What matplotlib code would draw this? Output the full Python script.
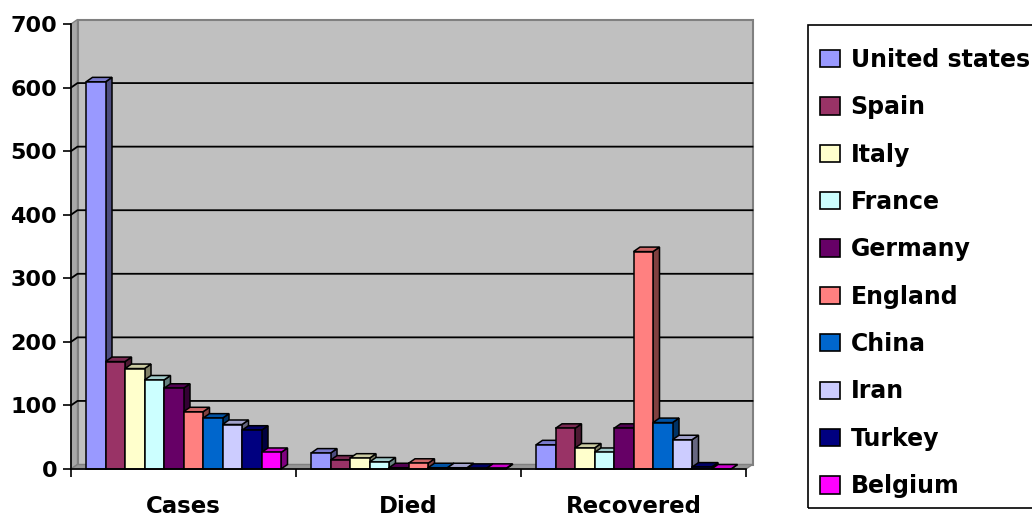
import matplotlib
matplotlib.use("Agg")
import matplotlib.pyplot as plt
from matplotlib.patches import Polygon, Patch, Rectangle
from matplotlib.colors import to_rgb

# Cases / deaths / recoveries per country (thousands)
categories = ["Cases", "Died", "Recovered"]
countries = ["United states", "Spain", "Italy", "France", "Germany",
             "England", "China", "Iran", "Turkey", "Belgium"]
colors = ["#9999FF", "#993366", "#FFFFCC", "#CCFFFF", "#660066",
          "#FF8080", "#0066CC", "#CCCCFF", "#000080", "#FF00FF"]

cases = [609, 169, 158, 140, 127, 90, 80, 70, 61, 26]
died = [25, 14, 17, 11, 2, 9, 2, 2, 1, 1]
recovered = [38, 64, 33, 26, 64, 342, 73, 46, 3, 0]
series = [cases, died, recovered]

yticks = list(range(0, 701, 100))

W, H = 1032, 517
fig = plt.figure(figsize=(W / 100, H / 100), dpi=100)
ax = fig.add_axes([71 / W, 48 / H, 675 / W, 445 / H])
ax.set_xlim(0, 3)
ax.set_ylim(0, 700)
ax.patch.set_visible(False)

# pixel -> data conversion for the fake 3D depth
px_x = 675 / 3
px_y = 445 / 700
dx = 6.5 / px_x
dy = 4.5 / px_y


def shade(c, f):
    r, g, b = to_rgb(c)
    return (r * f, g * f, b * f)


# back wall, side wall and floor
ax.add_patch(Polygon([(dx, dy), (3 + dx, dy), (3 + dx, 700 + dy), (dx, 700 + dy)],
                     facecolor="#C0C0C0", edgecolor="#808080", lw=1.5,
                     clip_on=False, zorder=0))
ax.add_patch(Polygon([(0, 0), (dx, dy), (dx, 700 + dy), (0, 700)],
                     facecolor="#A8A8A8", edgecolor="#808080", lw=1.0,
                     clip_on=False, zorder=0.5))
ax.add_patch(Polygon([(0, 0), (3, 0), (3 + dx, dy), (dx, dy)],
                     facecolor="#969696", edgecolor="#808080", lw=1.0,
                     clip_on=False, zorder=0.5))

for v in yticks[1:-1]:
    ax.plot([0, dx, 3 + dx], [v, v + dy, v + dy], color="black", lw=1.3,
            clip_on=False, zorder=1)

bar_w = 19.5 / px_x
start = 15 / px_x
for j, vals in enumerate(series):
    for i, h in enumerate(vals):
        x0 = j + start + i * bar_w
        z = 2 + j * 40 + i * 3
        c = colors[i]
        ax.add_patch(Polygon([(x0 + bar_w, 0), (x0 + bar_w + dx, dy),
                              (x0 + bar_w + dx, h + dy), (x0 + bar_w, h)],
                             facecolor=shade(c, 0.5), edgecolor="black", lw=1.1,
                             clip_on=False, zorder=z))
        ax.add_patch(Polygon([(x0, h), (x0 + bar_w, h),
                              (x0 + bar_w + dx, h + dy), (x0 + dx, h + dy)],
                             facecolor=shade(c, 0.8), edgecolor="black", lw=1.1,
                             clip_on=False, zorder=z + 1))
        ax.bar(x0, h, bar_w, align="edge", color=c, edgecolor="black",
               lw=1.1, zorder=z + 2, clip_on=False)

for s in ["top", "right"]:
    ax.spines[s].set_visible(False)
for s in ["left", "bottom"]:
    ax.spines[s].set_linewidth(1.2)
    ax.spines[s].set_zorder(200)

ax.set_yticks(yticks)
ax.set_yticklabels([str(v) for v in yticks], fontsize=16, fontweight="bold")
ax.tick_params(axis="y", direction="out", length=6, width=1.2, pad=4)

ax.set_xticks([0, 1, 2, 3])
ax.set_xticklabels([])
ax.set_xticks([0.5, 1.5, 2.5], minor=True)
ax.set_xticklabels(categories, minor=True, fontsize=16.5, fontweight="bold")
ax.tick_params(axis="x", which="major", direction="out", length=6, width=1.2)
ax.tick_params(axis="x", which="minor", length=0, pad=19)

# legend box runs off the right edge, so draw the frame separately
fig.add_artist(Rectangle((808 / W, 1 - 508 / H), (1045 - 808) / W, (508 - 25) / H,
                         transform=fig.transFigure, fill=False,
                         edgecolor="black", lw=1.2))
handles = [Patch(facecolor=c, edgecolor="black", lw=1.2) for c in colors]
fig.legend(handles, countries, loc="center left",
           bbox_to_anchor=(820 / W, 1 - 273 / H), borderaxespad=0,
           frameon=False, prop={"size": 17, "weight": "bold"},
           handlelength=0.85, handleheight=0.75, handletextpad=0.45,
           labelspacing=0.99, borderpad=0)

fig.savefig("out.png", dpi=100)
